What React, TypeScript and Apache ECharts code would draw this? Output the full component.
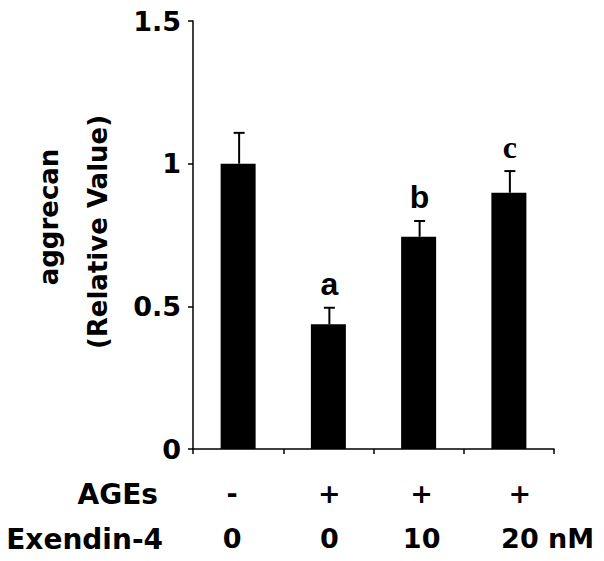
import React, { useEffect, useRef } from 'react';
import * as echarts from 'echarts';

// ---- data ----
const categories = ['Control', 'AGEs', 'AGEs + Ex-4 10', 'AGEs + Ex-4 20'];
const agesRow = ['-', '+', '+', '+'];
const exendinRow = ['0', '0', '10', '20'];
const exendinUnit = 'nM';
const means = [1.0, 0.437, 0.744, 0.898];
const errors = [0.108, 0.058, 0.055, 0.076];
const letters = ['', 'a', 'b', 'c'];
const rowHeaders = ['AGEs', 'Exendin-4'];
const yTitle = ['aggrecan', '(Relative Value)'];

// ---- style ----
const SANS = '"DejaVu Sans", sans-serif';
const LSANS = 'Liberation Sans';
const SERIF = 'Liberation Serif';
const letterFonts = [LSANS, LSANS, LSANS, SERIF];
const labelNudge = [-6, 1, 3, 11];

export default function App() {
  const ref = useRef<HTMLDivElement>(null);
  useEffect(() => {
    if (!ref.current) return;
    const chart = echarts.init(ref.current, undefined, { renderer: 'svg' });
    const valSize = 27;
    const unitW = (0.348 + 0.712 + 0.995) * valSize;
    const rich: Record<string, any> = {};
    categories.forEach((_, i) => {
      const n = labelNudge[i];
      const pad = n >= 0 ? [0, 0, 0, 2 * n] : [0, -2 * n, 0, 0];
      const base = { fontSize: valSize, fontWeight: 'bold', fontFamily: SANS, color: '#000', lineHeight: 45 };
      rich['a' + i] = { ...base, padding: pad };
      const isLast = i === categories.length - 1;
      const pad2 = isLast ? [0, 0, 0, 2 * n + unitW] : pad;
      rich['e' + i] = { ...base, padding: pad2 };
    });

    const option: any = {
      animation: false,
      grid: { left: 193, right: 50, top: 21, bottom: 112 },
      xAxis: {
        type: 'category',
        data: categories,
        axisLine: { lineStyle: { color: '#000', width: 1.5 } },
        axisTick: { show: true, length: 5, lineStyle: { color: '#000', width: 1.5 } },
        axisLabel: {
          interval: 0,
          margin: 22,
          formatter: (_v: string, i: number) => {
            const last = i === categories.length - 1;
            const e = exendinRow[i] + (last ? ' ' + exendinUnit : '');
            return `{a${i}|${agesRow[i]}}\n{e${i}|${e}}`;
          },
          rich,
        },
      },
      yAxis: {
        type: 'value',
        min: 0,
        max: 1.5,
        interval: 0.5,
        splitLine: { show: false },
        axisLine: { show: true, lineStyle: { color: '#000', width: 1.5 } },
        axisTick: { show: true, length: 5, lineStyle: { color: '#000', width: 1.5 } },
        axisLabel: {
          margin: 12,
          fontSize: 27,
          fontWeight: 'bold',
          fontFamily: SANS,
          color: '#000',
        },
      },
      series: [
        {
          type: 'bar',
          data: means,
          barWidth: 35,
          itemStyle: { color: '#000' },
          z: 2,
        },
        {
          type: 'custom',
          z: 3,
          data: means.map((m, i) => [i, m, m + errors[i]]),
          renderItem: (params: any, api: any) => {
            const i = params.dataIndex;
            const p0 = api.coord([api.value(0), api.value(1)]);
            const p1 = api.coord([api.value(0), api.value(2)]);
            const hw = 5.5;
            const lineStyle = { stroke: '#000', lineWidth: 2 };
            const children: any[] = [
              { type: 'line', shape: { x1: p0[0] + 1, y1: p0[1], x2: p1[0] + 1, y2: p1[1] }, style: lineStyle },
              { type: 'line', shape: { x1: p1[0] + 1 - hw, y1: p1[1], x2: p1[0] + 1 + hw, y2: p1[1] }, style: lineStyle },
            ];
            if (letters[i]) {
              children.push({
                type: 'text',
                x: p1[0] + 1,
                y: p1[1] - 8,
                style: {
                  text: letters[i],
                  fill: '#000',
                  fontFamily: letterFonts[i],
                  fontSize: 32,
                  fontWeight: 'bold',
                  align: 'center',
                  verticalAlign: 'bottom',
                },
              });
            }
            return { type: 'group', children };
          },
        },
      ],
      graphic: [
        {
          type: 'text',
          x: 158,
          y: 494,
          style: { text: rowHeaders[0], fill: '#000', fontFamily: 'DejaVu Sans', fontSize: 28, fontWeight: 'bold', align: 'right', verticalAlign: 'middle' },
        },
        {
          type: 'text',
          x: 163,
          y: 539,
          style: { text: rowHeaders[1], fill: '#000', fontFamily: 'DejaVu Sans', fontSize: 28, fontWeight: 'bold', align: 'right', verticalAlign: 'middle' },
        },
        {
          type: 'text',
          x: 49,
          y: 217,
          rotation: Math.PI / 2,
          style: { text: yTitle[0], fill: '#000', fontFamily: 'DejaVu Sans', fontSize: 26, fontWeight: 'bold', align: 'center', verticalAlign: 'middle' },
        },
        {
          type: 'text',
          x: 98,
          y: 232,
          rotation: Math.PI / 2,
          style: { text: yTitle[1], fill: '#000', fontFamily: 'DejaVu Sans', fontSize: 26, fontWeight: 'bold', align: 'center', verticalAlign: 'middle' },
        },
      ],
    };
    chart.setOption(option);
    return () => chart.dispose();
  }, []);
  return (
    <div
      ref={ref}
      style={{ position: 'fixed', left: 0, top: 0, width: 604, height: 561, background: '#fff' }}
    />
  );
}
